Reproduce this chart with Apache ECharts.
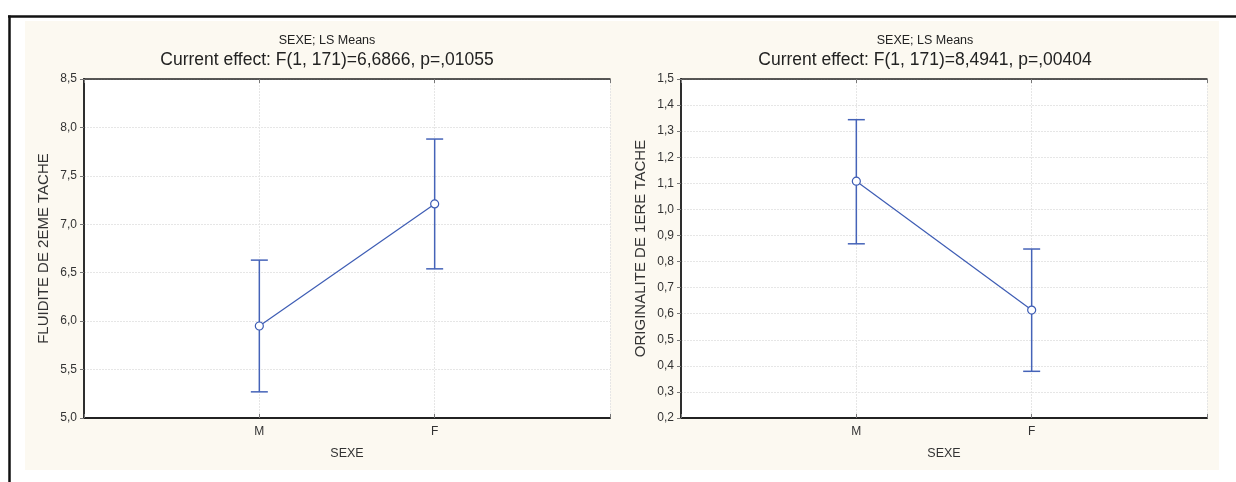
<!DOCTYPE html>
<html>
<head>
<meta charset="utf-8">
<script src="https://cdn.jsdelivr.net/npm/echarts@6/dist/echarts.min.js"></script>
<style>
html,body{margin:0;padding:0;background:#fff;}
#chart{width:1236px;height:482px;}
</style>
</head>
<body>
<div id="chart"></div>
<script>
// ---- data ----
const categories = ['M', 'F'];
// Left: FLUIDITE DE 2EME TACHE
const fluMean  = [5.95, 7.21];
const fluLow   = [5.27, 6.54];
const fluHigh  = [6.63, 7.88];
// Right: ORIGINALITE DE 1ERE TACHE
const oriMean  = [1.108, 0.614];
const oriLow   = [0.868, 0.379];
const oriHigh  = [1.344, 0.848];

const titlesSmall = ['SEXE; LS Means', 'SEXE; LS Means'];
const titlesMain = ['Current effect: F(1, 171)=6,6866, p=,01055', 'Current effect: F(1, 171)=8,4941, p=,00404'];
const yNames = ['FLUIDITE DE 2EME TACHE', 'ORIGINALITE DE 1ERE TACHE'];
const xName = 'SEXE';
const yRanges = [{min: 5.0, max: 8.5, interval: 0.5}, {min: 0.2, max: 1.5, interval: 0.1}];

// ---- styling ----
const FONT = 'Liberation Sans, Arial, sans-serif';
const BLUE = '#3d5cb4';
const BAR = '#4563b8';
const chart = echarts.init(document.getElementById('chart'), null, {renderer: 'canvas'});

const grids = [
  {left: 84, right: 626, top: 79, bottom: 64, show: true, backgroundColor: '#ffffff', borderWidth: 0},
  {left: 681, right: 29, top: 79, bottom: 64, show: true, backgroundColor: '#ffffff', borderWidth: 0}
];

const catLabel = v => {
  const i = Math.round(v) - 1;
  return (Math.abs(v - Math.round(v)) < 1e-6 && i >= 0 && i < categories.length) ? categories[i] : '';
};
const numLabel = v => v.toFixed(1).replace('.', ',');

const xAxes = [], yAxes = [], series = [];
[0, 1].forEach(g => {
  xAxes.push({
    type: 'value', gridIndex: g, min: 0, max: 3, interval: 1, position: 'bottom',
    name: xName, nameLocation: 'middle', nameGap: 29,
    nameTextStyle: {fontFamily: FONT, fontSize: 12.5, color: '#333'},
    axisLine: {show: true, lineStyle: {color: '#222', width: 2}},
    axisTick: {show: true, inside: true, length: 4, lineStyle: {color: '#777'}},
    axisLabel: {formatter: catLabel, fontFamily: FONT, fontSize: 12, color: '#333', margin: 8},
    splitLine: {show: true, lineStyle: {color: '#e6e6e6', type: [2, 1]}}
  });
  xAxes.push({
    type: 'value', gridIndex: g, min: 0, max: 3, interval: 1, position: 'top',
    axisLine: {show: true, lineStyle: {color: '#222', width: 1.5}},
    axisTick: {show: true, inside: true, length: 4, lineStyle: {color: '#777'}},
    axisLabel: {show: false}, splitLine: {show: false}
  });
  yAxes.push({
    type: 'value', gridIndex: g, min: yRanges[g].min, max: yRanges[g].max, interval: yRanges[g].interval,
    position: 'left',
    name: yNames[g], nameLocation: 'middle', nameGap: 33,
    nameTextStyle: {fontFamily: FONT, fontSize: 15, color: '#333'},
    axisLine: {show: true, lineStyle: {color: '#222', width: 2}},
    axisTick: {show: false},
    axisLabel: {formatter: numLabel, fontFamily: FONT, fontSize: 12, color: '#333', margin: 7},
    splitLine: {show: true, lineStyle: {color: '#e6e6e6', type: [2, 1]}}
  });
  yAxes.push({
    type: 'value', gridIndex: g, min: yRanges[g].min, max: yRanges[g].max, interval: yRanges[g].interval,
    position: 'right',
    axisLine: {show: true, lineStyle: {color: '#333', width: 1.5}},
    axisTick: {show: true, inside: true, length: 4, lineStyle: {color: '#777'}},
    axisLabel: {show: false}, splitLine: {show: false}
  });
});

const sets = [
  {mean: fluMean, low: fluLow, high: fluHigh},
  {mean: oriMean, low: oriLow, high: oriHigh}
];
sets.forEach((s, g) => {
  const xi = g * 2, yi = g * 2;
  series.push({
    type: 'custom', xAxisIndex: xi, yAxisIndex: yi, z: 3,
    data: categories.map((c, i) => [i + 1, s.low[i], s.high[i]]),
    renderItem: (params, api) => {
      const x = api.value(0);
      const lo = api.coord([x, api.value(1)]);
      const hi = api.coord([x, api.value(2)]);
      const cap = 8.5;
      const st = {stroke: BAR, lineWidth: 1.5};
      return {type: 'group', children: [
        {type: 'line', shape: {x1: lo[0], y1: lo[1], x2: hi[0], y2: hi[1]}, style: st},
        {type: 'line', shape: {x1: lo[0] - cap, y1: lo[1], x2: lo[0] + cap, y2: lo[1]}, style: st},
        {type: 'line', shape: {x1: hi[0] - cap, y1: hi[1], x2: hi[0] + cap, y2: hi[1]}, style: st}
      ]};
    }
  });
  series.push({
    type: 'line', xAxisIndex: xi, yAxisIndex: yi, z: 4,
    data: categories.map((c, i) => [i + 1, s.mean[i]]),
    symbol: 'circle', symbolSize: 8, showSymbol: true,
    lineStyle: {color: BLUE, width: 1.2},
    itemStyle: {color: '#ffffff', borderColor: BLUE, borderWidth: 1.2},
    animation: false
  });
});

const titles = [];
[322, 920].forEach((cx, g) => {
  titles.push({text: titlesSmall[g], left: cx, top: 29, textAlign: 'center',
    textStyle: {fontFamily: FONT, fontSize: 12.5, fontWeight: 'normal', color: '#222'}});
  titles.push({text: titlesMain[g], left: cx, top: 46, textAlign: 'center',
    textStyle: {fontFamily: FONT, fontSize: 17.5, fontWeight: 'normal', color: '#222'}});
});

chart.setOption({
  animation: false,
  backgroundColor: '#ffffff',
  title: titles,
  graphic: [
    {type: 'rect', z: -10, silent: true, shape: {x: 25, y: 21, width: 1194, height: 449}, style: {fill: '#fcf9f1'}},
    {type: 'line', z: -9, silent: true, shape: {x1: 8, y1: 16.5, x2: 1236, y2: 16.5}, style: {stroke: '#111', lineWidth: 2.5}},
    {type: 'line', z: -9, silent: true, shape: {x1: 9.5, y1: 15.5, x2: 9.5, y2: 482}, style: {stroke: '#111', lineWidth: 2.5}}
  ],
  grid: grids,
  xAxis: xAxes,
  yAxis: yAxes,
  series: series
});
</script>
</body>
</html>
